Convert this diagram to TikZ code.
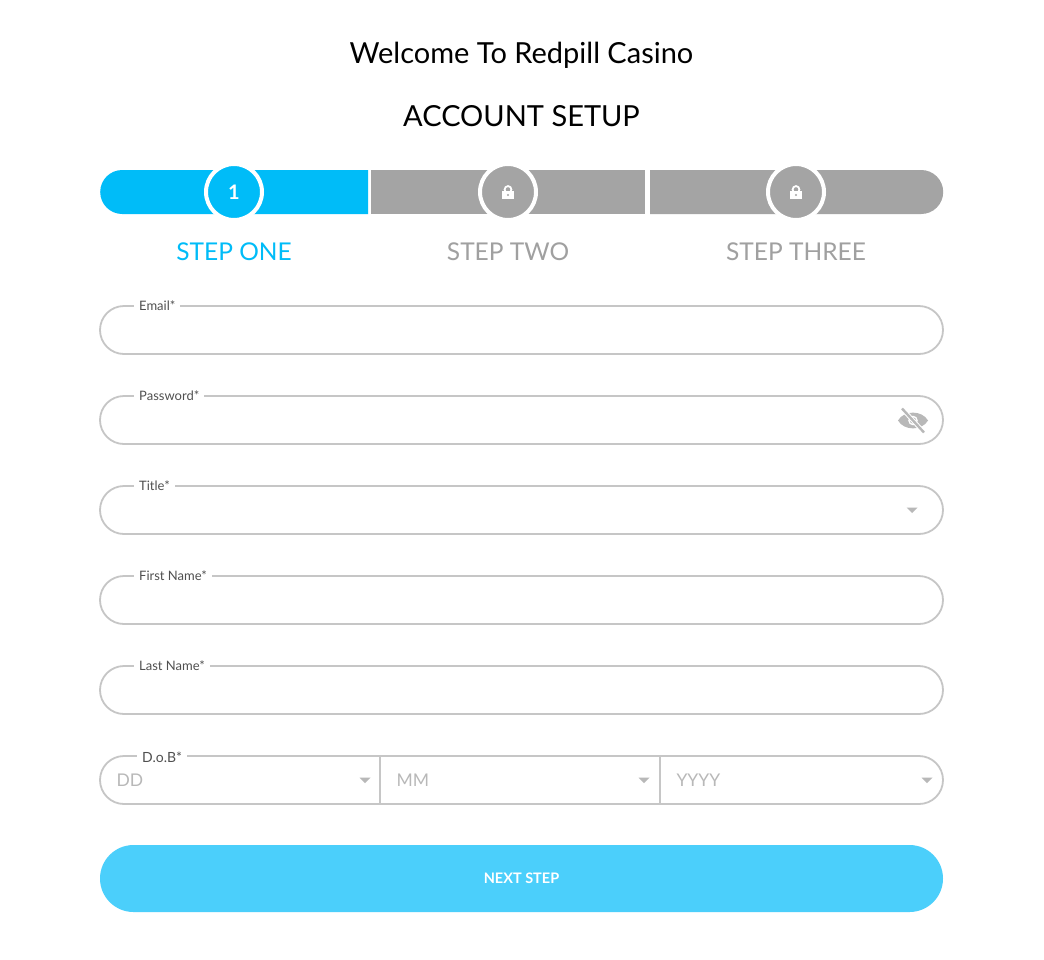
\documentclass[tikz,border=0pt]{standalone}
\usepackage{fontspec}
\setmainfont{Lato}
\usetikzlibrary{shapes.misc}
\definecolor{stepblue}{HTML}{00BCF8}
\definecolor{stepgray}{HTML}{A4A4A4}
\definecolor{fieldline}{HTML}{C6C6C6}
\definecolor{labelgray}{HTML}{505050}
\definecolor{holdergray}{HTML}{B8B8B8}
\definecolor{icongray}{HTML}{B8B8B8}
\definecolor{btnblue}{HTML}{4BCFFB}
\definecolor{steptext}{HTML}{A0A0A0}
\tikzset{
  fieldbox/.style={rounded rectangle, draw=fieldline, line width=1.8pt, minimum width=843pt, minimum height=48pt, inner sep=0pt},
  fieldlabel/.style={fill=white, inner xsep=5pt, inner ysep=1pt, anchor=west, text=labelgray, font=\fontsize{13}{15}\selectfont},
  holder/.style={anchor=west, text=holdergray, font=\fontsize{17.5}{20}\selectfont},
  stepcircle/.style={circle, draw=white, line width=4pt, minimum size=56pt, inner sep=0pt},
  steplabel/.style={font=\fontsize{24.5}{27}\selectfont},
  title/.style={font=\fontsize{29}{34}\selectfont, text=black},
  droptri/.style={fill=holdergray},
}
\begin{document}
\begin{tikzpicture}[x=1pt,y=-1pt]
\useasboundingbox (0,0) rectangle (1044,959);
\fill[white] (0,0) rectangle (1044,959);

% titles
\node[title] (welcome) at (521.5,55) {Welcome To Redpill Casino};
\node[title] (setup) at (521.5,116) {ACCOUNT SETUP};

% progress bar
\node[rounded rectangle, rounded rectangle right arc=none, fill=stepblue, minimum width=268pt, minimum height=44pt, inner sep=0pt, anchor=west] (seg1) at (100,192) {};
\node[rectangle, fill=stepgray, minimum width=274pt, minimum height=44pt, inner sep=0pt, anchor=west] (seg2) at (371,192) {};
\node[rounded rectangle, rounded rectangle left arc=none, fill=stepgray, minimum width=293pt, minimum height=44pt, inner sep=0pt, anchor=west] (seg3) at (650,192) {};

\node[stepcircle, fill=stepblue, text=white, font=\fontsize{20}{21}\selectfont\bfseries] (c1) at (234,192) {1};
\node[stepcircle, fill=stepgray] (c2) at (508,192) {};
\node[stepcircle, fill=stepgray] (c3) at (796,192) {};

% lock icons
\foreach \cx in {508,796}{
  \draw[white, line width=1.8pt] (\cx,189.5) circle[radius=3.4];
  \fill[white] (\cx-6,190.5) rectangle (\cx+6,199);
  \fill[stepgray] (\cx,195) circle[radius=1.1];
}

\node[steplabel, text=stepblue] (s1) at (234,252) {STEP ONE};
\node[steplabel, text=steptext] (s2) at (508,252) {STEP TWO};
\node[steplabel, text=steptext] (s3) at (796,252) {STEP THREE};

% fields
\node[fieldbox] (email) at (521.5,330) {};
\node[fieldlabel] (emaill) at (134,306) {Email*};

\node[fieldbox] (password) at (521.5,420) {};
\node[fieldlabel] (passwordl) at (134,396) {Password*};

\node[fieldbox] (titlef) at (521.5,510) {};
\node[fieldlabel] (titlel) at (134,486) {Title*};

\node[fieldbox] (first) at (521.5,600) {};
\node[fieldlabel] (firstl) at (134,576) {First Name*};

\node[fieldbox] (last) at (521.5,690) {};
\node[fieldlabel] (lastl) at (134,666) {Last Name*};

\node[fieldbox] (dob) at (521.5,780) {};
\draw[fieldline, line width=1.8pt] (380,756) -- (380,804);
\draw[fieldline, line width=1.8pt] (660,756) -- (660,804);
\node[fieldlabel, font=\fontsize{14}{16}\selectfont] (dobl) at (137,757) {D.o.B*};

\node[holder] (dd) at (113,780) {DD};
\node[holder] (mm) at (393,780) {MM};
\node[holder] (yyyy) at (673,780) {YYYY};

% dropdown triangles
\fill[droptri] (906.5,507.5) -- (917.5,507.5) -- (912,513) -- cycle;
\fill[droptri] (359.5,777.5) -- (370.5,777.5) -- (365,783) -- cycle;
\fill[droptri] (638.5,777.5) -- (649.5,777.5) -- (644,783) -- cycle;
\fill[droptri] (921.5,777.5) -- (932.5,777.5) -- (927,783) -- cycle;

% eye-slash icon
\fill[icongray] (898,420.5) .. controls (904,410) and (922,410) .. (928,420.5) .. controls (922,431) and (904,431) .. (898,420.5) -- cycle;
\fill[white] (913,420.5) circle[radius=4.8];
\fill[icongray] (913,420.5) circle[radius=3.2];
\draw[white, line width=4.5pt] (902,408.5) -- (924,432.5);
\draw[icongray, line width=2.4pt] (902,408.5) -- (924,432.5);

% button
\node[rounded rectangle, fill=btnblue, minimum width=843pt, minimum height=67pt, inner sep=0pt, text=white, font=\fontsize{14.5}{16}\selectfont\bfseries] (next) at (521.5,878.5) {NEXT STEP};
\end{tikzpicture}
\end{document}
